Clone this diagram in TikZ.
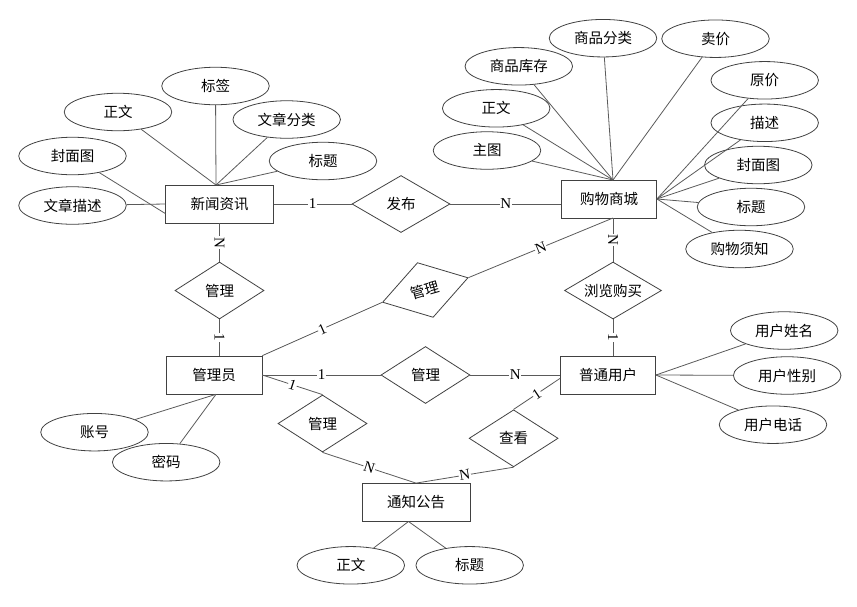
\documentclass[tikz,border=0pt]{standalone}
\usepackage{fontspec}
\setmainfont{Liberation Serif}
\newfontfamily\cjk{Noto Sans CJK SC}
\usepackage{xcolor}
\usetikzlibrary{positioning,shapes.geometric}
\definecolor{erline}{RGB}{90,90,90}
\definecolor{erborder}{RGB}{65,65,65}

\begin{document}
\begin{tikzpicture}[x=1pt, y=-1pt,
    entity/.style={rectangle, draw=erborder, line width=0.8pt, minimum height=38pt, font=\cjk\fontsize{14.5}{17}\selectfont},
    relation/.style={diamond, draw=erborder, line width=0.8pt, aspect=2, inner sep=0pt, minimum width=89pt, minimum height=57pt, font=\cjk\fontsize{14.5}{17}\selectfont},
    attr/.style={ellipse, draw=erborder, line width=0.8pt, minimum width=107.5pt, minimum height=37.5pt, font=\cjk\fontsize{14.5}{17}\selectfont},
    link/.style={draw=erline, line width=0.8pt},
    card/.style={fill=white, inner sep=0.6pt, font=\fontsize{15}{15}\selectfont, sloped, midway}]
    \useasboundingbox (0,0) rectangle (857,606);

    \node[entity, minimum width=107.5pt] (news) at (219.5,204) {新闻资讯};
    \node[entity, minimum width=95pt] (mall) at (609,199) {购物商城};
    \node[entity, minimum width=96pt] (admin) at (214,375) {管理员};
    \node[entity, minimum width=95pt] (user) at (608,375) {普通用户};
    \node[entity, minimum width=108pt] (notice) at (416,502.5) {通知公告};

    \node[relation, minimum width=98pt] (publish) at (401,204) {发布};
    \node[relation] (newsmgr) at (219.5,290.5) {管理};
    \node[relation, rotate=16] (mallmgr) at (425.3,290) {管理};
    \node[relation, minimum width=97pt] (browse) at (613,290.5) {浏览购买};
    \node[relation] (usermgr) at (425.5,375) {管理};
    \node[relation] (noticemgr) at (322.5,423.5) {管理};
    \node[relation] (view) at (513.6,438.3) {查看};

    \node[attr] (newstag) at (215.5,86) {标签};
    \node[attr] (newstext) at (118,112) {正文};
    \node[attr] (newscat) at (286.7,119.5) {文章分类};
    \node[attr] (newscover) at (72.5,156) {封面图};
    \node[attr] (newstitle) at (323,161) {标题};
    \node[attr] (newsdesc) at (72.5,205.5) {文章描述};

    \node[attr] (mallcat) at (603,38.2) {商品分类};
    \node[attr] (mallprice) at (715.5,38.7) {卖价};
    \node[attr] (mallstock) at (518.8,66.3) {商品库存};
    \node[attr] (mallorig) at (764.7,80.3) {原价};
    \node[attr] (malltext) at (496.2,108.3) {正文};
    \node[attr] (malldesc) at (764.7,122.8) {描述};
    \node[attr] (mallimg) at (487,150.5) {主图};
    \node[attr] (mallcover) at (758.3,165) {封面图};
    \node[attr] (malltitle) at (751,207) {标题};
    \node[attr] (mallnotes) at (739.5,249) {购物须知};

    \node[attr] (adminacct) at (94.5,432.2) {账号};
    \node[attr] (adminpwd) at (166.2,462.2) {密码};

    \node[attr] (username) at (784.2,330.5) {用户姓名};
    \node[attr] (usersex) at (787.2,375.5) {用户性别};
    \node[attr] (userphone) at (773,424.7) {用户电话};

    \node[attr] (noticetext) at (350.8,565.3) {正文};
    \node[attr] (noticetitle) at (469.7,565.3) {标题};

    \coordinate (newstop) at (216,185);
    \coordinate (malltop) at (613,180);
    \coordinate (mallbot) at (613,218);
    \coordinate (adminbot) at (216,394.3);
    \coordinate (noticebot) at (408.5,521.5);

    \draw[link] (newstag) -- (newstop);
    \draw[link] (newstext) -- (newstop);
    \draw[link] (newscat) -- (newstop);
    \draw[link] (newstitle) -- (newstop);
    \draw[link] (newscover) -- (news.190);
    \draw[link] (newsdesc) -- (news.west);

    \draw[link] (mallcat) -- (malltop);
    \draw[link] (mallprice) -- (malltop);
    \draw[link] (mallstock) -- (malltop);
    \draw[link] (malltext) -- (malltop);
    \draw[link] (mallimg) -- (malltop);
    \draw[link] (mallorig) -- (mall.east);
    \draw[link] (malldesc) -- (mall.east);
    \draw[link] (mallcover) -- (mall.east);
    \draw[link] (malltitle) -- (mall.east);
    \draw[link] (mallnotes) -- (mall.east);

    \draw[link] (adminacct) -- (adminbot);
    \draw[link] (adminpwd) -- (adminbot);

    \draw[link] (username) -- (user.east);
    \draw[link] (usersex) -- (user.east);
    \draw[link] (userphone) -- (user.east);

    \draw[link] (noticetext) -- (noticebot);
    \draw[link] (noticetitle) -- (noticebot);

    \draw[link] (news) -- node[card] {1} (publish);
    \draw[link] (publish) -- node[card] {N} (publish.east -| mall.west);
    \draw[link] (news) -- node[card] {N} (newsmgr);
    \draw[link] (newsmgr) -- node[card] {1} (newsmgr.south |- admin.north);
    \draw[link] (admin.north east) -- node[card] {1} (mallmgr.west);
    \draw[link] (mallmgr.east) -- node[card] {N} (mallbot);
    \draw[link] (mallbot) -- node[card] {N} (browse);
    \draw[link] (browse) -- node[card] {1} (browse.south |- user.north);
    \draw[link] (admin) -- node[card] {1} (usermgr);
    \draw[link] (usermgr) -- node[card] {N} (user);
    \draw[link] (admin.east) -- node[card] {1} (noticemgr.north);
    \draw[link] (noticemgr.south) -- node[card] {N} (notice.north);
    \draw[link] (user.184) -- node[card] {1} (view.north);
    \draw[link] (view.south) -- node[card] {N} (notice.north);
\end{tikzpicture}
\end{document}
